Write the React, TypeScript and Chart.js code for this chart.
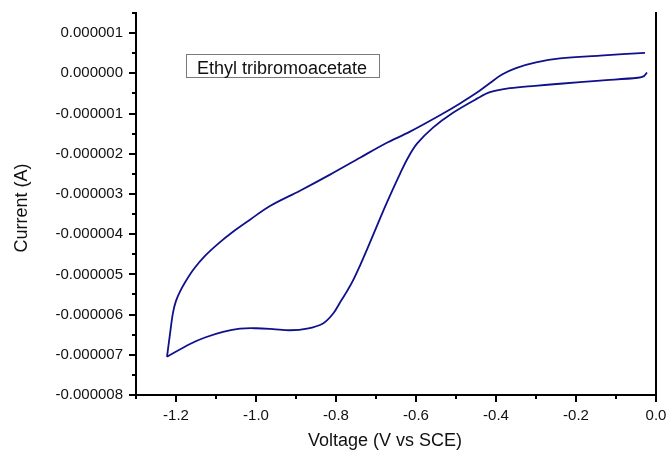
import { useEffect, useRef } from "react";
import { Chart, registerables } from "chart.js";

Chart.register(...registerables);

// Forward (cathodic) scan: from start near 0 V down to the vertex
const forwardVoltage = [
  -0.0225, -0.03, -0.045, -0.14, -0.24, -0.3025, -0.365, -0.415, -0.4475, -0.5075,
  -0.5575, -0.5975, -0.62, -0.64, -0.66, -0.68, -0.7, -0.72, -0.74, -0.76,
  -0.7775, -0.79, -0.8075, -0.8325, -0.8725, -0.915, -0.9575, -1.0, -1.04, -1.0825,
  -1.1275, -1.165, -1.2225,
];
const forwardCurrent = [
  0.02e-6, -0.07e-6, -0.11e-6, -0.18e-6, -0.26e-6, -0.31e-6, -0.37e-6, -0.47e-6, -0.63e-6, -0.98e-6,
  -1.35e-6, -1.75e-6, -2.1e-6, -2.5e-6, -2.93e-6, -3.38e-6, -3.85e-6, -4.32e-6, -4.78e-6, -5.2e-6,
  -5.5e-6, -5.7e-6, -5.98e-6, -6.22e-6, -6.35e-6, -6.39e-6, -6.36e-6, -6.34e-6, -6.35e-6, -6.43e-6,
  -6.57e-6, -6.73e-6, -7.05e-6,
];

// Reverse scan: from the vertex back towards 0 V
const reverseVoltage = [
  -1.2225, -1.215, -1.2075, -1.2, -1.19, -1.175, -1.155, -1.1275, -1.095, -1.0575,
  -1.015, -0.965, -0.89, -0.815, -0.74, -0.6775, -0.615, -0.5325, -0.49, -0.4475,
  -0.415, -0.385, -0.35, -0.3, -0.24, -0.14, -0.0275,
];
const reverseCurrent = [
  -7.05e-6, -6.48e-6, -5.95e-6, -5.66e-6, -5.43e-6, -5.16e-6, -4.86e-6, -4.54e-6, -4.24e-6, -3.94e-6,
  -3.64e-6, -3.3e-6, -2.92e-6, -2.52e-6, -2.1e-6, -1.75e-6, -1.45e-6, -1.0e-6, -0.75e-6, -0.48e-6,
  -0.24e-6, -0.03e-6, 0.13e-6, 0.27e-6, 0.37e-6, 0.44e-6, 0.51e-6,
];

const xTickValues = [-1.2, -1.0, -0.8, -0.6, -0.4, -0.2, 0.0];
const xMinorTickValues = [-1.3, -1.1, -0.9, -0.7, -0.5, -0.3, -0.1];
const yTickValues = [-8e-6, -7e-6, -6e-6, -5e-6, -4e-6, -3e-6, -2e-6, -1e-6, 0, 1e-6];
const yMinorTickValues = [-7.5e-6, -6.5e-6, -5.5e-6, -4.5e-6, -3.5e-6, -2.5e-6, -1.5e-6, -0.5e-6, 0.5e-6, 1.5e-6];

const xTitle = "Voltage (V vs SCE)";
const yTitle = "Current (A)";
const legendLabel = "Ethyl tribromoacetate";

const FONT = '"Liberation Sans", Arial, sans-serif';
const LINE_COLOR = "#10108c";

const decorPlugin = {
  id: "decor",
  afterDraw(chart: any) {
    const { ctx, chartArea, scales } = chart;
    const xs = scales.x;
    const ys = scales.y;
    ctx.save();
    ctx.strokeStyle = "#000";
    ctx.lineWidth = 2;
    // right frame line
    ctx.beginPath();
    ctx.moveTo(chartArea.right, chartArea.top - 1);
    ctx.lineTo(chartArea.right, chartArea.bottom);
    ctx.stroke();

    const drawX = (vals: number[], len: number) => {
      for (const v of vals) {
        const px = Math.round(xs.getPixelForValue(v));
        ctx.beginPath();
        ctx.moveTo(px, chartArea.bottom);
        ctx.lineTo(px, chartArea.bottom + len);
        ctx.stroke();
      }
    };
    const drawY = (vals: number[], len: number) => {
      for (const v of vals) {
        const py = Math.round(ys.getPixelForValue(v));
        ctx.beginPath();
        ctx.moveTo(chartArea.left, py);
        ctx.lineTo(chartArea.left - len, py);
        ctx.stroke();
      }
    };
    drawX(xTickValues, 7);
    drawX(xMinorTickValues, 4);
    drawY(yTickValues, 7);
    drawY(yMinorTickValues, 4);

    // axis titles
    ctx.fillStyle = "#111";
    ctx.font = `18px ${FONT}`;
    ctx.textAlign = "center";
    ctx.textBaseline = "middle";
    ctx.fillText(xTitle, 385, 441);
    ctx.save();
    ctx.translate(22, 208);
    ctx.rotate(-Math.PI / 2);
    ctx.fillText(yTitle, 0, 0);
    ctx.restore();

    // legend box
    ctx.strokeStyle = "#7a7a7a";
    ctx.lineWidth = 1;
    ctx.strokeRect(186.5, 54.5, 193, 23);
    ctx.fillStyle = "#111";
    ctx.textAlign = "left";
    ctx.textBaseline = "alphabetic";
    ctx.font = `18px ${FONT}`;
    ctx.fillText(legendLabel, 197, 73.5);
    ctx.restore();
  },
};

export default function App() {
  const ref = useRef<HTMLCanvasElement>(null);

  useEffect(() => {
    if (!ref.current) return;
    const forward = forwardVoltage.map((v, i) => ({ x: v, y: forwardCurrent[i] }));
    const reverse = reverseVoltage.map((v, i) => ({ x: v, y: reverseCurrent[i] }));
    const lineStyle = {
      showLine: true,
      borderColor: LINE_COLOR,
      borderWidth: 1.8,
      pointRadius: 0,
      tension: 0.35,
      fill: false,
    };
    const chart = new Chart(ref.current, {
      type: "scatter",
      data: {
        datasets: [
          { data: forward, ...lineStyle },
          { data: reverse, ...lineStyle },
        ],
      },
      options: {
        animation: false,
        responsive: false,
        maintainAspectRatio: false,
        devicePixelRatio: 1,
        layout: { padding: { top: 13, right: 11, left: 0, bottom: 0 } },
        plugins: { legend: { display: false }, tooltip: { enabled: false } },
        scales: {
          x: {
            type: "linear",
            min: -1.3,
            max: 0,
            grid: { display: false, drawTicks: false },
            border: { display: true, color: "#000", width: 2 },
            afterBuildTicks: (scale: any) => {
              scale.ticks = xTickValues.map((v) => ({ value: v }));
            },
            afterFit: (scale: any) => {
              scale.height = 62;
              scale.paddingLeft = 0;
              scale.paddingRight = 0;
            },
            ticks: {
              padding: 12,
              color: "#111",
              font: { family: FONT, size: 15 },
              maxRotation: 0,
              autoSkip: false,
              callback: (v: any) => Number(v).toFixed(1),
            },
          },
          y: {
            type: "linear",
            min: -8e-6,
            max: 1.5e-6,
            grid: { display: false, drawTicks: false },
            border: { display: true, color: "#000", width: 2 },
            afterBuildTicks: (scale: any) => {
              scale.ticks = yTickValues.map((v) => ({ value: v }));
            },
            afterFit: (scale: any) => {
              scale.width = 136;
              scale.paddingTop = 0;
              scale.paddingBottom = 0;
            },
            ticks: {
              padding: 13,
              color: "#111",
              font: { family: FONT, size: 15 },
              autoSkip: false,
              callback: (v: any) => {
                const n = Number(v);
                return Math.abs(n) < 1e-12 ? "0.000000" : n.toFixed(6);
              },
            },
          },
        },
      },
      plugins: [decorPlugin],
    });
    return () => chart.destroy();
  }, []);

  return (
    <div style={{ position: "fixed", left: 0, top: 0, width: 667, height: 457, background: "#fff" }}>
      <canvas ref={ref} width={667} height={457} style={{ display: "block", width: 667, height: 457 }} />
    </div>
  );
}
